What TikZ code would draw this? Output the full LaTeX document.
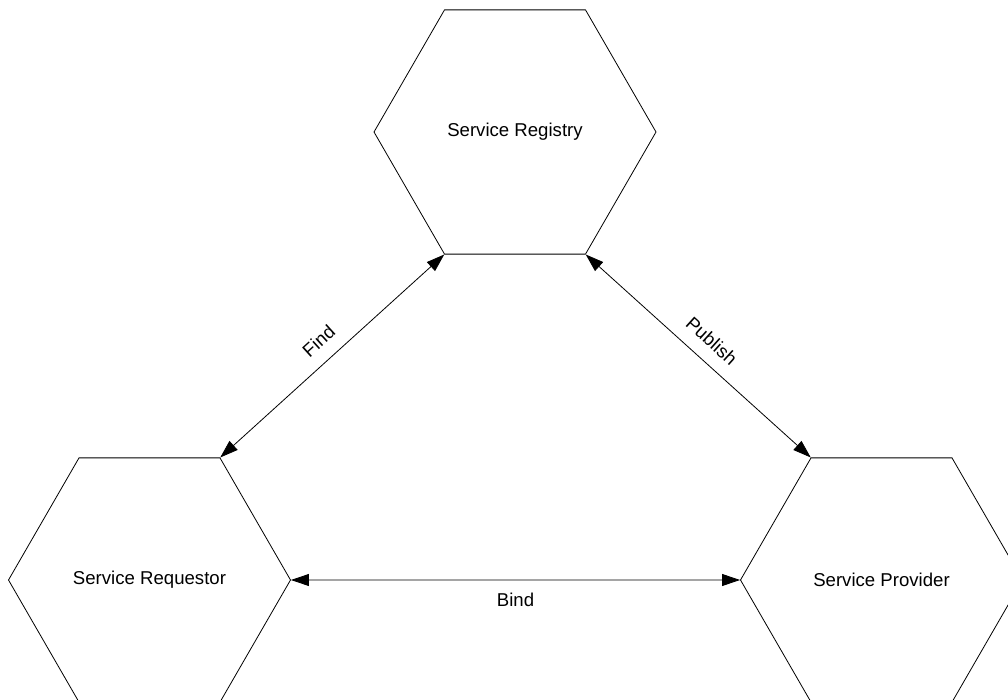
\documentclass[tikz,border=0pt]{standalone}
\usepackage{fontspec}
\setmainfont{Liberation Sans}
\usetikzlibrary{shapes.geometric,arrows.meta}
\begin{document}
\begin{tikzpicture}[x=1pt,y=-1pt,
  txt/.style={font=\fontsize{18.6}{22}\selectfont},
  hexnode/.style={txt, regular polygon, regular polygon sides=6,
    minimum size=282pt, inner sep=0pt, draw=black, line width=0.8pt},
  link/.style={{Triangle[length=18pt,width=12pt]}-{Triangle[length=18pt,width=12pt]},
    line width=0.8pt},
  lbl/.style={txt, inner sep=0pt}]
\clip (0,0) rectangle (1008,700);

% the three parties
\node[hexnode] (reg)  at (515,132)   {Service Registry};
\node[hexnode] (req)  at (149.5,580) {Service Requestor};
\node[hexnode] (prov) at (881.5,580) {Service Provider};

% interactions between them
\draw[link] (req.60) -- node[lbl, sloped, above=13pt] {Find} (reg.240);
\draw[link] (reg.300) -- node[lbl, sloped, above=13pt] {Publish} (prov.120);
\draw[link] (req.0) -- node[lbl, below=13pt] {Bind} (prov.180);
\end{tikzpicture}
\end{document}
